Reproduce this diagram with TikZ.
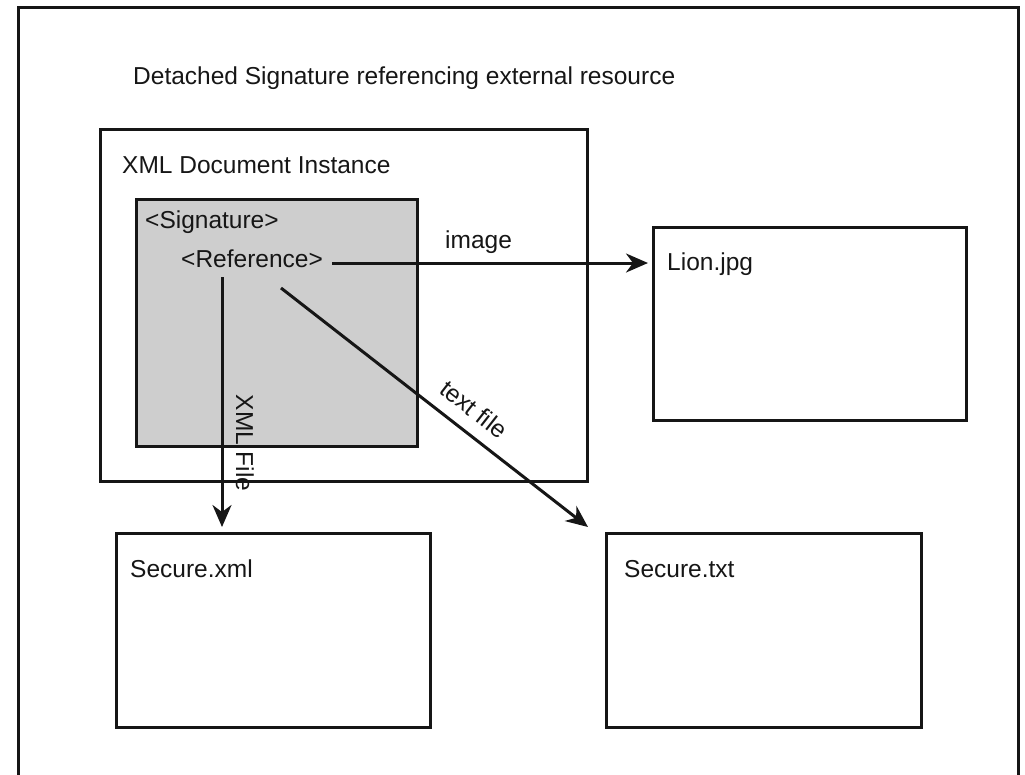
\documentclass[tikz,border=0pt]{standalone}
\usepackage{fontspec}
\setmainfont{Liberation Sans}
\usetikzlibrary{arrows.meta}
\definecolor{sigfill}{RGB}{206,206,206}
\definecolor{ink}{RGB}{22,22,22}
\begin{document}
\begin{tikzpicture}[x=1pt,y=-1pt,
  box/.style={draw=ink, line width=3pt, anchor=north west, inner sep=0pt, outer sep=0pt},
  lbl/.style={anchor=base west, inner sep=0pt, text=ink, font=\fontsize{24.5}{29}\selectfont},
  tag/.style={inner sep=0pt, text=ink, font=\fontsize{24.5}{29}\selectfont},
  arr/.style={draw=ink, line width=3pt, -{Stealth[length=22pt,width=19pt,inset=7pt]}},
]
\useasboundingbox (0,0) rectangle (1025,774);

% page frame, open at the bottom
\begin{scope}
  \clip (0,0) rectangle (1025,774);
  \draw[ink, line width=3pt] (18,790) -- (18,7) -- (1018,7) -- (1018,790);
\end{scope}

\node[lbl] (title) at (133,84) {Detached Signature referencing external resource};

% containers and targets
\node[box, minimum width=487pt, minimum height=352pt] (doc) at (100,129) {};
\node[box, fill=sigfill, minimum width=281pt, minimum height=247pt] (sig) at (136,199) {};
\node[box, minimum width=313pt, minimum height=193pt] (lion) at (653,227) {};
\node[box, minimum width=314pt, minimum height=194pt] (xml) at (116,533) {};
\node[box, minimum width=315pt, minimum height=194pt] (txt) at (606,533) {};

% box captions
\node[lbl] (docl) at (122,173) {XML Document Instance};
\node[lbl] (sigl) at (145,228) {<Signature>};
\node[lbl] (ref) at (181,267) {<Reference>};
\node[lbl] (lionl) at (667,270) {Lion.jpg};
\node[lbl] (xmll) at (130,577) {Secure.xml};
\node[lbl] (txtl) at (624,577) {Secure.txt};

% reference origins
\coordinate (srcImg) at (332,263);
\coordinate (srcXml) at (222,277);
\coordinate (srcTxt) at (281,288);

% references
\draw[arr, shorten >=5pt] (srcImg) -- (srcImg -| lion.west);
\draw[arr, shorten >=6pt] (srcXml) -- (srcXml |- xml.north);
\draw[arr] (srcTxt) -- ([xshift=-18pt,yshift=6pt]txt.north west);

% connector labels
\node[lbl] (imgl) at (445,248) {image};
\node[tag, rotate=-90] (xmlf) at (245,443) {XML File};
\node[tag, rotate=-38] (txtf) at (474,409) {text file};
\end{tikzpicture}
\end{document}
